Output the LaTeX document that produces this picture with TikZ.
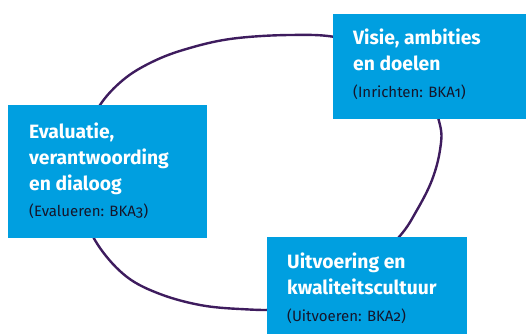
\documentclass[tikz,border=0pt]{standalone}
\usepackage{fontspec}
\setmainfont{Fira Sans}[Numbers=OldStyle]
\definecolor{roblue}{HTML}{009FE0}
\definecolor{ropurple}{HTML}{3E1C5E}
\definecolor{subtxt}{HTML}{15152A}
\tikzset{
  box/.style={fill=roblue, draw=none, inner sep=0pt, anchor=north west},
  lbl/.style={anchor=base west, inner sep=0pt, align=left, text=white,
    font=\bfseries\fontsize{19.3}{26}\selectfont},
  sub/.style={anchor=base west, inner sep=0pt, text=subtxt,
    font=\fontsize{15}{18}\selectfont},
  cyc/.style={draw=ropurple, line width=2.4pt}
}
\begin{document}
\begin{tikzpicture}[x=1pt,y=-1pt]
\useasboundingbox (0,0) rectangle (526,334);
\draw[cyc] plot[smooth cycle, tension=0.6] coordinates {
  (290,35) (340,38) (392,57) (425,88) (440,125) (440,150) (432,180) (417,210)
  (399,237) (360,275) (320,298) (280,309) (240,309) (200,305) (160,294)
  (127,277) (100,248) (84,215) (78,175) (83,140) (100,105) (123,80) (150,63)
  (183,50) (230,39)};
\node[box, minimum width=193pt, minimum height=105pt] (b1) at (333,14) {};
\node[box, minimum width=199pt, minimum height=133pt] (b2) at (8,105) {};
\node[box, minimum width=200pt, minimum height=97pt] (b3) at (267,237) {};
\node[lbl] (t1) at (353,71) {Visie, ambities\\en doelen};
\node[sub] (s1) at (353,97) {(Inrichten: BKA1)};
\node[lbl] (t2) at (29,190) {Evaluatie,\\verantwoording\\en dialoog};
\node[sub] (s2) at (29,216) {(Evalueren: BKA3)};
\node[lbl] (t3) at (287,294) {Uitvoering en\\kwaliteitscultuur};
\node[sub] (s3) at (287,321) {(Uitvoeren: BKA2)};
\end{tikzpicture}
\end{document}
